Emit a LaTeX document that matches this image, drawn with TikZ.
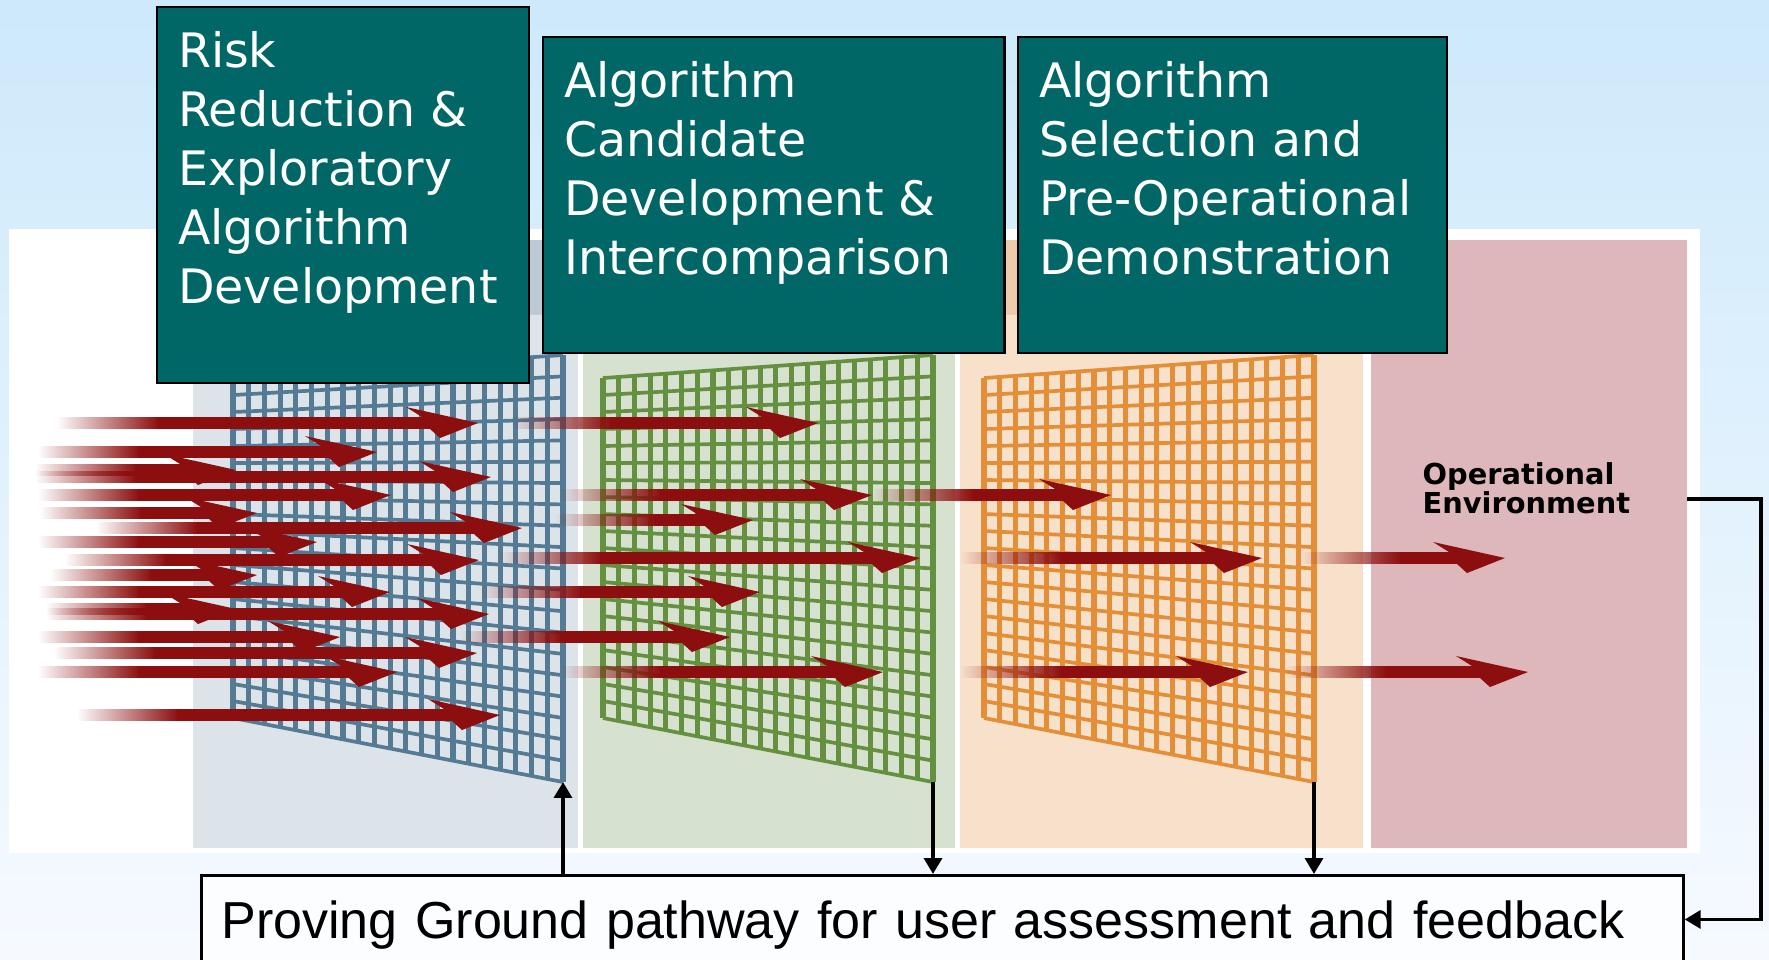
\documentclass[tikz,border=0pt]{standalone}
\usepackage{fontspec}
\usetikzlibrary{calc,fadings,arrows.meta}
\newfontfamily\boxfont{DejaVu Sans}
\newfontfamily\pgfont{Liberation Sans}
\definecolor{bgtop}{RGB}{205,233,251}
\definecolor{bgbot}{RGB}{246,250,255}
\definecolor{tealbox}{RGB}{0,102,102}
\definecolor{arrowred}{RGB}{140,14,14}
\definecolor{laneA}{RGB}{221,228,233}
\definecolor{laneAhead}{RGB}{190,202,211}
\definecolor{laneB}{RGB}{215,225,207}
\definecolor{laneC}{RGB}{248,225,203}
\definecolor{laneChead}{RGB}{238,203,172}
\definecolor{laneD}{RGB}{221,183,186}
\definecolor{meshA}{RGB}{84,122,148}
\definecolor{meshB}{RGB}{100,144,64}
\definecolor{meshC}{RGB}{228,142,56}
\tikzfading[name=tailfade, left color=transparent!100, right color=transparent!0]
\newcommand{\fadelen}{100}
% tail x, tip x, y
\newcommand{\redarrow}[3]{%
  \fill[arrowred, path fading=tailfade] (#1,#3-6) rectangle (#1+\fadelen+2,#3+6);
  \fill[arrowred] (#1+\fadelen,#3-6) rectangle (#2-40,#3+6);
  \fill[arrowred] (#2,#3) -- ++(-72,-16) -- ++(16,10) -- ++(8,12) -- ++(10,9) -- cycle;}
% name, left x, colour
\newcommand{\meshgrid}[3]{%
  \coordinate (#1-tl) at (#2,378);
  \coordinate (#1-tr) at (#2+330,355);
  \coordinate (#1-bl) at (#2,718);
  \coordinate (#1-br) at (#2+330,782);
  \foreach \i in {0,...,21}
    \draw[#3, line width=1.45pt] ($(#1-tl)!\i/21!(#1-tr)$) -- ($(#1-bl)!\i/21!(#1-br)$);
  \foreach \j in {0,...,20}
    \draw[#3, line width=1.05pt] ($(#1-tl)!\j/20!(#1-bl)$) -- ($(#1-tr)!\j/20!(#1-br)$);}

\begin{document}
\begin{tikzpicture}[x=0.01cm, y=-0.01cm]
  \tikzset{lane/.style={inner sep=0pt, outer sep=0pt, minimum height=6.08cm, anchor=north west}}
  \tikzset{phase/.style={draw=black, line width=0.7pt, fill=tealbox, text=white, inner xsep=0.21cm, inner ysep=0.24cm, outer sep=0pt, anchor=north west, font=\boxfont\fontsize{13.5}{16.8}\selectfont}}
  \tikzset{pgbox/.style={draw=black, line width=0.8pt, fill=white!60!bgbot, text width=14.41cm, align=left, inner xsep=0.2cm, minimum height=1cm, anchor=north west, font=\pgfont\fontsize{14.8}{18}\selectfont}}
  \tikzset{link/.style={line width=1.1pt, -{Triangle[length=4.5pt, width=5pt]}}}
  \useasboundingbox (0,0) rectangle (1769,959);
  \clip (0,0) rectangle (1769,959);
  \shade[top color=bgtop, bottom color=bgbot] (0,0) rectangle (1769,959);
  \fill[white] (9,229) rectangle (1700,853);

  % lanes
  \node[lane, fill=laneA, minimum width=3.85cm] (laneA) at (193,240) {};
  \node[lane, fill=laneB, minimum width=3.72cm] (laneB) at (583,240) {};
  \node[lane, fill=laneC, minimum width=4.03cm] (laneC) at (960,240) {};
  \node[lane, fill=laneD, minimum width=3.16cm] (opcol) at (1371,240) {};
  \fill[laneAhead] (193,240) rectangle (578,315);
  \fill[laneChead] (960,240) rectangle (1363,315);

  % grids
  \meshgrid{gA}{233}{meshA}
  \meshgrid{gB}{603}{meshB}
  \meshgrid{gC}{984}{meshC}

  % arrows
  \foreach \a/\b/\c in {57/478/423, 38/377/452, 35/236/470, 35/491/477, 38/391/495,
      40/257/513, 96/522/528, 38/317/542, 65/479/560, 50/257/575, 38/390/592,
      46/236/609, 46/489/614, 38/340/637, 54/477/653, 38/397/672, 77/500/715}
    \redarrow{\a}{\b}{\c};
  \foreach \a/\b/\c in {510/818/423, 560/872/495, 555/753/520, 500/920/558,
      480/760/592, 460/730/637, 560/883/672}
    \redarrow{\a}{\b}{\c};
  \foreach \a/\b/\c in {872/1111/495, 960/1262/558, 960/1248/672,
      1300/1505/558, 1285/1528/672}
    \redarrow{\a}{\b}{\c};

  \node[anchor=north west, inner sep=0pt, align=left, font=\boxfont\bfseries\fontsize{8.2}{8.3}\selectfont] (envtext) at (1422,462) {Operational\\Environment};

  % phase boxes
  \node[phase] (riskbox) at (157,7) {\parbox[t][3.28cm][t]{3.30cm}{\raggedright Risk\\Reduction \&\\Exploratory\\Algorithm\\Development}};
  \node[phase] (candbox) at (543,37) {\parbox[t][2.68cm][t]{4.19cm}{\raggedright Algorithm\\Candidate\\Development \&\\Intercomparison}};
  \node[phase] (selbox) at (1018,37) {\parbox[t][2.68cm][t]{3.87cm}{\raggedright Algorithm\\Selection and\\Pre-Operational\\Demonstration}};

  \node[pgbox] (pg) at (200,874) {Proving Ground pathway for user assessment and feedback};

  \draw[link] (pg.north -| gA-br) -- (gA-br);
  \draw[link] (gB-br) -- (pg.north -| gB-br);
  \draw[link] (gC-br) -- (pg.north -| gC-br);
  \draw[link] ([yshift=0.45cm]opcol.east) -- ++(74,0) |- ([yshift=0.06cm]pg.east);
\end{tikzpicture}
\end{document}
